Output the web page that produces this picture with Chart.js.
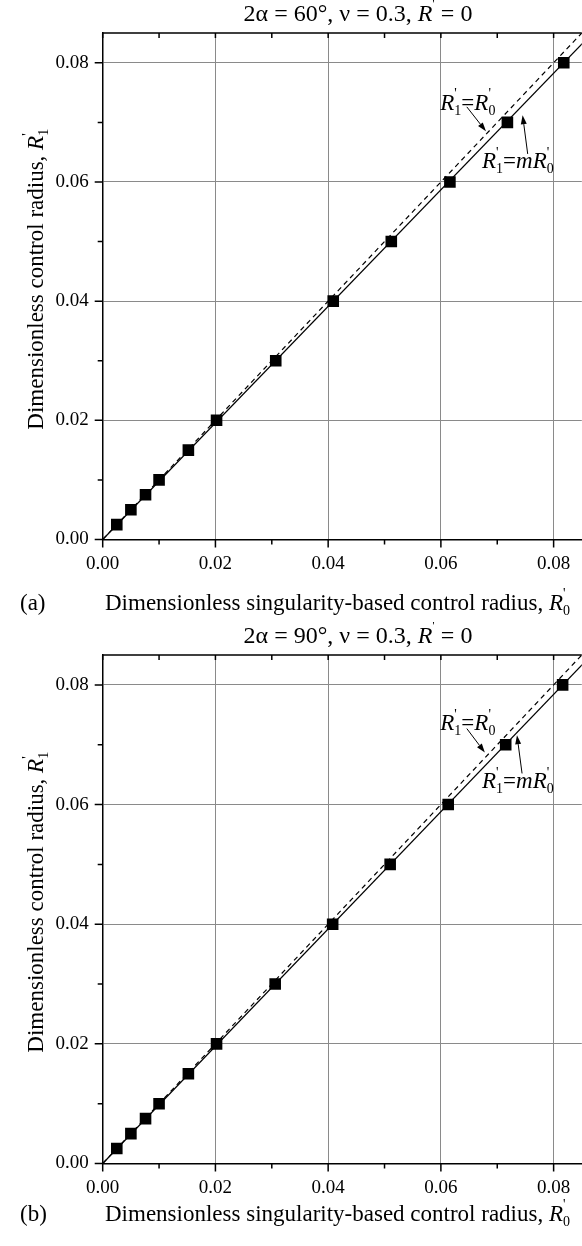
<!DOCTYPE html>
<html>
<head>
<meta charset="utf-8">
<script src="https://cdn.jsdelivr.net/npm/chart.js@4.4.1/dist/chart.umd.min.js"></script>
<style>
  html, body { margin: 0; padding: 0; background: #fff; }
  body { width: 582px; height: 1246px; position: relative; overflow: hidden; }
  .panel { position: absolute; left: 0; width: 590px; }
</style>
</head>
<body>
<div class="panel" style="top:0;height:622px"><canvas id="chartA"></canvas></div>
<div class="panel" style="top:622px;height:624px"><canvas id="chartB"></canvas></div>
<script>
// values
const tickValues = [0.00, 0.02, 0.04, 0.06, 0.08];
const r1A = [0.0025, 0.005, 0.0075, 0.01, 0.015, 0.02, 0.03, 0.04, 0.05, 0.06, 0.07, 0.08];
const r0A = [0.0025, 0.005, 0.0076, 0.0100, 0.0152, 0.0202, 0.0307, 0.0409, 0.0512, 0.0616, 0.0718, 0.0818];
const r1B = [0.0025, 0.005, 0.0075, 0.01, 0.015, 0.02, 0.03, 0.04, 0.05, 0.06, 0.07, 0.08];
const r0B = [0.0025, 0.005, 0.0076, 0.0100, 0.0152, 0.0202, 0.0306, 0.0408, 0.0510, 0.0613, 0.0715, 0.0816];
const mA = 0.978;   // slope of R1 = m R0
const mB = 0.980;
const axisMax = 0.085;

const FONT = '"Liberation Serif", "Times New Roman", serif';
const TXT = 23;
const isMajor = v => Math.round(v * 100) % 2 === 0;

function drawRich(ctx, parts, x, y, size, align) {
  const f = (s, it) => (it ? 'italic ' : '') + s + 'px ' + FONT;
  const small = Math.round(size * 0.6);
  parts = parts.map(p => typeof p === 'string' ? { t: p } : p);
  let w = 0;
  const widths = parts.map(p => {
    let pw;
    if (p.t === undefined) {
      ctx.font = f(small);
      pw = Math.max(ctx.measureText(p.up || '').width, ctx.measureText(p.dn || '').width);
    } else {
      ctx.font = f(size, p.it);
      pw = ctx.measureText(p.t).width;
    }
    w += pw;
    return pw;
  });
  let cx = align === 'center' ? x - w / 2 : align === 'right' ? x - w : x;
  ctx.textAlign = 'left';
  ctx.textBaseline = 'alphabetic';
  ctx.fillStyle = '#000';
  parts.forEach((p, i) => {
    if (p.t === undefined) {
      ctx.font = f(small);
      if (p.up) ctx.fillText(p.up, cx, y - size * 0.5);
      if (p.dn) ctx.fillText(p.dn, cx, y + size * 0.22);
    } else {
      ctx.font = f(size, p.it);
      ctx.fillText(p.t, cx, y);
    }
    cx += widths[i];
  });
}

function arrow(ctx, x1, y1, x2, y2) {
  const a = Math.atan2(y2 - y1, x2 - x1);
  const L = 9, W = 3;
  ctx.strokeStyle = '#000';
  ctx.lineWidth = 1;
  ctx.beginPath();
  ctx.moveTo(x1, y1);
  ctx.lineTo(x2 - L * Math.cos(a), y2 - L * Math.sin(a));
  ctx.stroke();
  ctx.fillStyle = '#000';
  ctx.beginPath();
  ctx.moveTo(x2, y2);
  ctx.lineTo(x2 - L * Math.cos(a) + W * Math.sin(a), y2 - L * Math.sin(a) - W * Math.cos(a));
  ctx.lineTo(x2 - L * Math.cos(a) - W * Math.sin(a), y2 - L * Math.sin(a) + W * Math.cos(a));
  ctx.closePath();
  ctx.fill();
}

function decor(o) {
  return {
    id: 'decor',
    afterDraw(chart) {
      const ctx = chart.ctx;
      const { left, right, top, bottom } = chart.chartArea;
      const xs = chart.scales.x, ys = chart.scales.y;
      ctx.save();
      // tick marks and top frame
      ctx.strokeStyle = '#000';
      ctx.lineWidth = 1.5;
      ctx.beginPath();
      xs.ticks.forEach(t => {
        const px = xs.getPixelForValue(t.value);
        const len = isMajor(t.value) ? 8 : 5;
        ctx.moveTo(px, bottom); ctx.lineTo(px, bottom + len);
        ctx.moveTo(px, top); ctx.lineTo(px, top + 5);
      });
      ys.ticks.forEach(t => {
        const py = ys.getPixelForValue(t.value);
        const len = isMajor(t.value) ? 8 : 5;
        ctx.moveTo(left, py); ctx.lineTo(left - len, py);
      });
      ctx.moveTo(left, top); ctx.lineTo(right, top);
      ctx.stroke();

      // annotations
      o.notes.forEach(n => {
        drawRich(ctx, n.parts, xs.getPixelForValue(n.x), ys.getPixelForValue(n.y), TXT, 'left');
      });
      o.arrows.forEach(a => {
        arrow(ctx, xs.getPixelForValue(a[0]), ys.getPixelForValue(a[1]),
                   xs.getPixelForValue(a[2]), ys.getPixelForValue(a[3]));
      });

      // titles
      drawRich(ctx, o.title, 358, 21, 24, 'center');
      drawRich(ctx, ['Dimensionless singularity-based control radius, ', { t: 'R', it: true }, { up: "'", dn: '0' }],
               105, bottom + o.xTitleGap, TXT, 'left');
      drawRich(ctx, [o.panel], 20, bottom + o.xTitleGap, TXT, 'left');
      ctx.translate(43, (top + bottom) / 2 - 7);
      ctx.rotate(-Math.PI / 2);
      drawRich(ctx, ['Dimensionless control radius, ', { t: 'R', it: true }, { up: "'", dn: '1' }], 0, 0, TXT, 'center');
      ctx.restore();
    }
  };
}

function makeChart(id, r0, r1, m, o) {
  const pts = r0.map((x, i) => ({ x: x, y: r1[i] }));
  const axis = {
    type: 'linear',
    min: 0,
    max: axisMax,
    grid: {
      color: c => isMajor(c.tick.value) ? '#8a8a8a' : 'rgba(0,0,0,0)',
      lineWidth: 1,
      drawTicks: false
    },
    border: { display: true, color: '#000', width: 1.5 },
    ticks: {
      stepSize: 0.01,
      includeBounds: false,
      autoSkip: false,
      maxRotation: 0,
      color: '#000',
      font: { family: FONT, size: 19 },
      callback: v => isMajor(v) ? v.toFixed(2) : ''
    }
  };
  return new Chart(document.getElementById(id), {
    type: 'scatter',
    data: {
      datasets: [
        {
          type: 'line',
          data: [{ x: 0, y: 0 }, { x: 0.1, y: 0.1 }],
          borderColor: '#000',
          borderWidth: 1.2,
          borderDash: [5, 4],
          pointRadius: 0,
          fill: false
        },
        {
          type: 'line',
          data: [{ x: 0, y: 0 }, { x: 0.1, y: 0.1 * m }],
          borderColor: '#000',
          borderWidth: 1.2,
          pointRadius: 0,
          fill: false
        },
        {
          data: pts,
          pointStyle: 'rect',
          pointRadius: 8.2,
          backgroundColor: '#000',
          borderColor: '#000',
          borderWidth: 0
        }
      ]
    },
    options: {
      responsive: true,
      maintainAspectRatio: false,
      animation: false,
      layout: { padding: { top: 33, right: 0, left: 0, bottom: 0 } },
      plugins: {
        legend: { display: false },
        tooltip: { enabled: false }
      },
      scales: {
        x: Object.assign({}, axis, {
          ticks: Object.assign({}, axis.ticks, { padding: 13 }),
          afterFit: s => { s.height = 82.5; }
        }),
        y: Object.assign({}, axis, {
          ticks: Object.assign({}, axis.ticks, { padding: 14 }),
          afterFit: s => { s.width = 102.7; }
        })
      }
    },
    plugins: [decor(o)]
  });
}

const eqNote = [{ t: 'R', it: true }, { up: "'", dn: '1' }, '=', { t: 'R', it: true }, { up: "'", dn: '0' }];
const mNote = [{ t: 'R', it: true }, { up: "'", dn: '1' }, '=', { t: 'mR', it: true }, { up: "'", dn: '0' }];

makeChart('chartA', r0A, r1A, mA, {
  title: ['2α = 60°, ν = 0.3, ', { t: 'R', it: true }, { up: "'" }, ' = 0'],
  panel: '(a)',
  notes: [{ x: 0.0599, y: 0.0721, parts: eqNote }, { x: 0.0673, y: 0.0623, parts: mNote }],
  arrows: [[0.0646, 0.0726, 0.0680, 0.0685], [0.0754, 0.0647, 0.0745, 0.0712]],
  xTitleGap: 70
});

makeChart('chartB', r0B, r1B, mB, {
  title: ['2α = 90°, ν = 0.3, ', { t: 'R', it: true }, { up: "'" }, ' = 0'],
  panel: '(b)',
  notes: [{ x: 0.0599, y: 0.0724, parts: eqNote }, { x: 0.0673, y: 0.0627, parts: mNote }],
  arrows: [[0.0646, 0.0727, 0.0678, 0.0687], [0.0744, 0.0652, 0.0735, 0.0716]],
  xTitleGap: 57
});
</script>
</body>
</html>
